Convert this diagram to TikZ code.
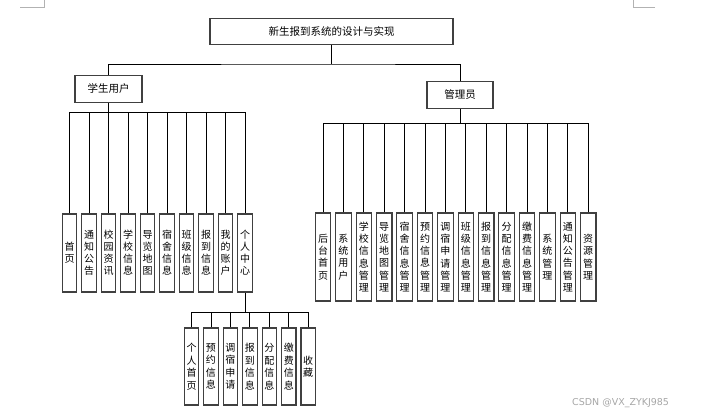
\documentclass[tikz,border=0pt]{standalone}
\usepackage{fontspec}
\newfontfamily\cjk{Noto Sans CJK SC}
\setsansfont{DejaVu Sans}
\tikzset{
  box/.style={draw=black!75, line width=1.1pt, fill=white, inner sep=0pt, align=center, font=\cjk\fontsize{10.5}{12}\selectfont},
  vstu/.style={box, minimum width=14.5pt, minimum height=78pt, font=\cjk\fontsize{10}{12}\selectfont},
  vadm/.style={box, minimum width=15.5pt, minimum height=88pt, font=\cjk\fontsize{10}{12.3}\selectfont},
  vsub/.style={box, minimum width=14.5pt, minimum height=77pt, font=\cjk\fontsize{10}{12.5}\selectfont},
  conn/.style={draw=black, line width=0.8pt},
  cornermark/.style={draw=black!30, line width=0.6pt}
}
\begin{document}
\begin{tikzpicture}[x=1pt,y=-1pt]
\useasboundingbox (0,0) rectangle (703,416);
% page corner marks
\draw[cornermark] (20,7) -- (44,7) -- (44,0);
\draw[cornermark] (655,7) -- (633,7) -- (633,0);

\node[box, minimum width=243pt, minimum height=26pt] (title) at (331.5,31.3) {新生报到系统的设计与实现};
\node[box, minimum width=67pt, minimum height=27pt] (stu) at (108.5,88.7) {学生用户};
\node[box, minimum width=66pt, minimum height=26.5pt] (adm) at (460,95) {管理员};

\coordinate (tb) at (331.5,64);
\draw[conn] (title.south) -- (tb);
\draw[conn] (stu.north) |- (tb) -| (adm.north);

% student children
\coordinate (sb) at (0,112);
\foreach \t [count=\i from 0] in {首\\页,通\\知\\公\\告,校\\园\\资\\讯,学\\校\\信\\息,导\\览\\地\\图,宿\\舍\\信\\息,班\\级\\信\\息,报\\到\\信\\息,我\\的\\账\\户,个\\人\\中\\心}{
  \node[vstu] (s\i) at ({69.5+19.5*\i},253) {\t};
  \draw[conn] (s\i.north) -- (s\i.north |- sb);
}
\draw[conn] (stu.south) -- (stu.south |- sb);
\draw[conn] (s0.north |- sb) -- (s9.north |- sb);

% admin children
\coordinate (ab) at (0,123.3);
\foreach \t [count=\i from 0] in {后\\台\\首\\页,系\\统\\用\\户,学\\校\\信\\息\\管\\理,导\\览\\地\\图\\管\\理,宿\\舍\\信\\息\\管\\理,预\\约\\信\\息\\管\\理,调\\宿\\申\\请\\管\\理,班\\级\\信\\息\\管\\理,报\\到\\信\\息\\管\\理,分\\配\\信\\息\\管\\理,缴\\费\\信\\息\\管\\理,系\\统\\管\\理,通\\知\\公\\告\\管\\理,资\\源\\管\\理}{
  \node[vadm] (a\i) at ({323+20.4*\i},257) {\t};
  \draw[conn] (a\i.north) -- (a\i.north |- ab);
}
\draw[conn] (adm.south) -- (adm.south |- ab);
\draw[conn] (a0.north |- ab) -- (a13.north |- ab);

% personal centre children
\coordinate (pb) at (0,312);
\foreach \t [count=\i from 0] in {个\\人\\首\\页,预\\约\\信\\息,调\\宿\\申\\请,报\\到\\信\\息,分\\配\\信\\息,缴\\费\\信\\息,收\\藏}{
  \node[vsub] (p\i) at ({191.5+19.45*\i},366.5) {\t};
  \draw[conn] (p\i.north) -- (p\i.north |- pb);
}
\draw[conn] (s9.south) -- (s9.south |- pb);
\draw[conn] (p0.north |- pb) -- (p6.north |- pb);

% watermark
\node[anchor=west, inner sep=0pt, text=black!35, font=\sffamily\fontsize{9.5}{11}\selectfont] (wm) at (572,403) {CSDN @VX\_ZYKJ985};
\end{tikzpicture}
\end{document}
